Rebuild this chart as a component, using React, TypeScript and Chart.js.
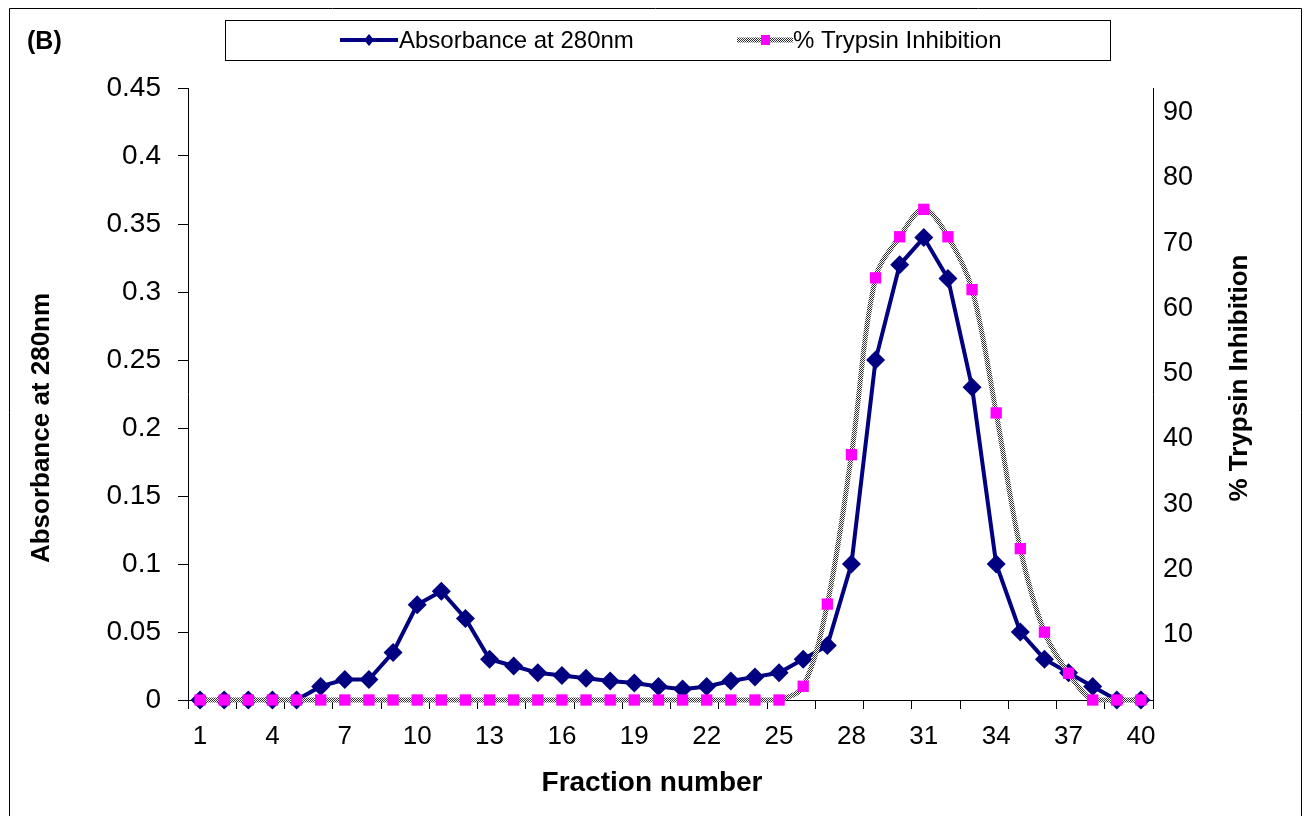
import { useEffect, useRef } from "react";
import { Chart, registerables } from "chart.js";

Chart.register(...registerables);

const fractions = [
  "1", "2", "3", "4", "5", "6", "7", "8", "9", "10",
  "11", "12", "13", "14", "15", "16", "17", "18", "19", "20",
  "21", "22", "23", "24", "25", "26", "27", "28", "29", "30",
  "31", "32", "33", "34", "35", "36", "37", "38", "39", "40",
];

const absorbance = [
  0, 0, 0, 0, 0, 0.01, 0.015, 0.015, 0.035, 0.07,
  0.08, 0.06, 0.03, 0.025, 0.02, 0.018, 0.016, 0.014, 0.0125, 0.01,
  0.008, 0.01, 0.014, 0.017, 0.02, 0.03, 0.04, 0.1, 0.25, 0.32,
  0.34, 0.31, 0.23, 0.1, 0.05, 0.03, 0.02, 0.01, 0, 0,
];

const trypsin = [
  0, 0, 0, 0, 0, 0, 0, 0, 0, 0,
  0, 0, 0, 0, 0, 0, 0, 0, 0, 0,
  0, 0, 0, 0, 0, 2.1, 14.7, 37.6, 64.7, 71,
  75.2, 71, 62.9, 44, 23.2, 10.4, 4.1, 0, 0, 0,
];

const absorbanceTicks = [0, 0.05, 0.1, 0.15, 0.2, 0.25, 0.3, 0.35, 0.4, 0.45];
const trypsinTicks = [10, 20, 30, 40, 50, 60, 70, 80, 90];

const seriesNames = ["Absorbance at 280nm", "% Trypsin Inhibition"];
const axisTitles = ["Absorbance at 280nm", "% Trypsin Inhibition", "Fraction number"];
const panelLabel = "(B)";

const FONT = "'Liberation Sans', Arial, Helvetica, sans-serif";
const NAVY = "#000080";
const PINK = "#FF00FF";

function makeChecker(): CanvasPattern | string {
  const c = document.createElement("canvas");
  c.width = 2;
  c.height = 2;
  const g = c.getContext("2d");
  if (!g) return "#888";
  g.fillStyle = "#ffffff";
  g.fillRect(0, 0, 2, 2);
  g.fillStyle = "#333333";
  g.fillRect(0, 0, 1, 1);
  g.fillRect(1, 1, 1, 1);
  const p = g.createPattern(c, "repeat");
  return p || "#888";
}

export default function App() {
  const ref = useRef<HTMLCanvasElement | null>(null);

  useEffect(() => {
    const canvas = ref.current;
    if (!canvas) return;
    const checker = makeChecker();

    const decor = {
      id: "decor",
      afterDraw(chart: any) {
        const ctx = chart.ctx as CanvasRenderingContext2D;
        ctx.save();
        // outer frame
        ctx.strokeStyle = "#000";
        ctx.lineWidth = 1;
        ctx.beginPath();
        ctx.moveTo(9.5, 830);
        ctx.lineTo(9.5, 8.5);
        ctx.lineTo(1301.5, 8.5);
        ctx.lineTo(1301.5, 830);
        ctx.stroke();

        // panel label
        ctx.fillStyle = "#000";
        ctx.font = `bold 25px ${FONT}`;
        ctx.textAlign = "left";
        ctx.textBaseline = "middle";
        ctx.fillText(panelLabel, 27, 42);

        // legend box
        ctx.strokeStyle = "#000";
        ctx.lineWidth = 1;
        ctx.strokeRect(225.5, 20.5, 885, 40);

        const ly = 40;
        // item 1
        ctx.strokeStyle = NAVY;
        ctx.lineWidth = 4;
        ctx.beginPath();
        ctx.moveTo(340, ly);
        ctx.lineTo(398, ly);
        ctx.stroke();
        ctx.fillStyle = NAVY;
        ctx.beginPath();
        ctx.moveTo(369 - 5, ly);
        ctx.lineTo(369, ly - 6);
        ctx.lineTo(369 + 5, ly);
        ctx.lineTo(369, ly + 6);
        ctx.closePath();
        ctx.fill();
        ctx.fillStyle = "#000";
        ctx.font = `24px ${FONT}`;
        ctx.textAlign = "left";
        ctx.textBaseline = "middle";
        ctx.fillText(seriesNames[0], 399, ly + 1);

        // item 2
        ctx.strokeStyle = checker as any;
        ctx.lineWidth = 5;
        ctx.beginPath();
        ctx.moveTo(737, ly);
        ctx.lineTo(793, ly);
        ctx.stroke();
        ctx.fillStyle = PINK;
        ctx.fillRect(761, ly - 5, 9, 10);
        ctx.fillStyle = "#000";
        ctx.fillText(seriesNames[1], 793, ly + 1);

        // axis titles
        ctx.font = `bold 26px ${FONT}`;
        ctx.textAlign = "center";
        ctx.textBaseline = "middle";
        ctx.save();
        ctx.translate(42, 428);
        ctx.rotate(-Math.PI / 2);
        ctx.fillText(axisTitles[0], 0, 0);
        ctx.restore();

        ctx.save();
        ctx.translate(1240, 378);
        ctx.rotate(-Math.PI / 2);
        ctx.fillText(axisTitles[1], 0, 0);
        ctx.restore();

        ctx.font = `bold 28px ${FONT}`;
        ctx.fillText(axisTitles[2], 652, 783);
        ctx.restore();
      },
    };

    const chart = new Chart(canvas, {
      type: "line",
      data: {
        labels: fractions,
        datasets: [
          {
            label: seriesNames[0],
            data: absorbance,
            yAxisID: "y",
            borderColor: NAVY,
            backgroundColor: NAVY,
            borderWidth: 4,
            pointStyle: "rectRot",
            pointRadius: 9.5,
            pointBorderWidth: 0,
            pointBackgroundColor: NAVY,
            tension: 0,
            clip: false,
            order: 2,
          },
          {
            label: seriesNames[1],
            data: trypsin,
            yAxisID: "y1",
            borderColor: checker as any,
            backgroundColor: PINK,
            borderWidth: 5,
            pointStyle: "rect",
            pointRadius: 8,
            pointBorderWidth: 0,
            pointBackgroundColor: PINK,
            tension: 0.35,
            clip: false,
            order: 1,
          },
        ],
      },
      options: {
        responsive: false,
        animation: false,
        events: [],
        layout: { padding: { top: 88, left: 0, right: 0, bottom: 0 } },
        plugins: {
          legend: { display: false },
          tooltip: { enabled: false },
          title: { display: false },
        },
        scales: {
          x: {
            type: "category",
            offset: true,
            grid: {
              offset: true,
              drawOnChartArea: false,
              drawTicks: true,
              tickLength: 9,
              tickWidth: 1,
              tickColor: (c: any) =>
                c.index === undefined || c.index % 2 === 0 ? "#000" : "rgba(0,0,0,0)",
            },
            border: { display: true, color: "#000", width: 1 },
            ticks: {
              autoSkip: false,
              maxRotation: 0,
              minRotation: 0,
              padding: 12,
              color: "#000",
              font: { family: FONT, size: 26 },
              callback: (_v: any, i: number) => (i % 3 === 0 ? fractions[i] : ""),
            },
            afterFit: (s: any) => {
              s.height = 116;
            },
          },
          y: {
            type: "linear",
            position: "left",
            min: 0,
            max: 0.45,
            afterBuildTicks: (s: any) => {
              s.ticks = absorbanceTicks.map((v) => ({ value: v }));
            },
            grid: {
              drawOnChartArea: false,
              drawTicks: true,
              tickLength: 10,
              tickColor: "#000",
            },
            border: { display: true, color: "#000", width: 1 },
            ticks: {
              padding: 17,
              color: "#000",
              font: { family: FONT, size: 28 },
              callback: (v: any) => String(v),
            },
            afterFit: (s: any) => {
              s.width = 188;
            },
          },
          y1: {
            type: "linear",
            position: "right",
            min: 0,
            max: 93.8,
            afterBuildTicks: (s: any) => {
              s.ticks = trypsinTicks.map((v) => ({ value: v }));
            },
            grid: { drawOnChartArea: false, drawTicks: false },
            border: { display: true, color: "#000", width: 1 },
            ticks: {
              padding: 10,
              color: "#000",
              font: { family: FONT, size: 27 },
              callback: (v: any) => String(v),
            },
            afterFit: (s: any) => {
              s.width = 154;
            },
          },
        },
      },
      plugins: [decor],
    } as any);

    return () => {
      chart.destroy();
    };
  }, []);

  return (
    <div
      style={{
        position: "fixed",
        left: 0,
        top: 0,
        width: 1307,
        height: 816,
        background: "#fff",
        overflow: "hidden",
      }}
    >
      <canvas ref={ref} width={1307} height={816} style={{ display: "block" }} />
    </div>
  );
}
